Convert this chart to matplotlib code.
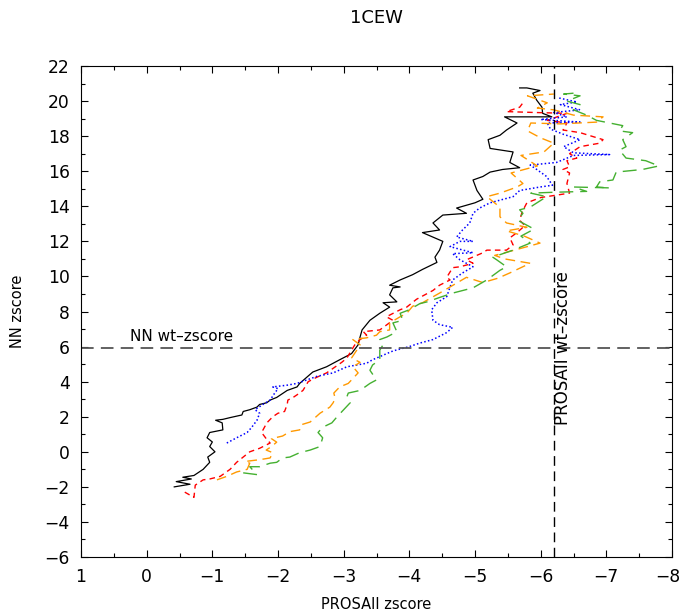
import matplotlib
matplotlib.use("Agg")
import matplotlib.pyplot as plt
import matplotlib.transforms as mtransforms
from matplotlib.ticker import MultipleLocator

plt.rcParams["font.family"] = ["DejaVu Sans"]

# PROSAII zscore (x) vs NN zscore (y), one list pair per run
black_x = [-0.42, -0.66, -0.45, -0.68, -0.55, -0.72, -0.86, -0.96, -0.93, -1.04, -0.96, -1.00, -0.92, -0.96,
           -1.16, -1.15, -1.05, -1.16, -1.27, -1.45, -1.47, -1.57, -1.68, -1.72, -1.83, -1.88, -1.98, -2.14,
           -2.29, -2.33, -2.53, -2.74, -2.94, -3.12, -3.22, -3.25, -3.28, -3.40, -3.55, -3.70, -3.60, -3.81,
           -3.70, -3.75, -3.86, -3.70, -3.86, -4.05, -4.20, -4.42, -4.39, -4.46, -4.51, -4.20, -4.46, -4.36,
           -4.51, -4.87, -4.72, -5.00, -5.12, -5.03, -4.97, -5.12, -5.23, -5.42, -5.68, -5.53, -5.58, -5.23,
           -5.20, -5.38, -5.48, -5.64, -5.45, -6.17, -6.03, -6.02, -5.94, -5.88, -5.99, -5.79, -5.68]
black_y = [-2.00, -1.85, -1.70, -1.55, -1.45, -1.35, -1.00, -0.60, -0.30, 0.00, 0.30, 0.56, 0.80, 1.10,
           1.25, 1.65, 1.80, 1.85, 1.95, 2.10, 2.30, 2.40, 2.55, 2.70, 2.80, 2.95, 3.10, 3.50,
           3.70, 3.90, 4.55, 4.85, 5.25, 5.60, 6.10, 6.55, 6.95, 7.50, 7.90, 8.25, 8.50, 8.55,
           8.95, 9.35, 9.40, 9.50, 9.80, 10.10, 10.40, 10.80, 11.10, 11.50, 12.00, 12.50, 12.65, 13.05,
           13.50, 13.60, 13.90, 14.20, 14.40, 14.90, 15.50, 15.70, 15.95, 16.10, 16.20, 16.50, 17.10, 17.30,
           17.80, 18.05, 18.35, 18.75, 19.10, 19.10, 19.30, 19.65, 20.05, 20.45, 20.60, 20.75, 20.75]

red_x = [-0.58, -0.72, -0.74, -0.86, -0.96, -1.12, -1.27, -1.37, -1.47, -1.57, -1.72, -1.88, -1.83, -1.75,
         -1.83, -1.92, -2.00, -2.10, -2.14, -2.15, -2.23, -2.29, -2.38, -2.46, -2.59, -2.74, -2.97, -3.05,
         -3.12, -3.17, -3.25, -3.35, -3.30, -3.55, -3.75, -3.65, -3.86, -3.96, -4.11, -4.36, -4.46, -4.62,
         -4.57, -4.66, -4.77, -4.97, -4.87, -5.12, -5.18, -5.48, -5.58, -5.53, -5.64, -5.76, -5.68, -5.72,
         -5.79, -6.00, -6.44, -6.40, -6.44, -6.34, -6.44, -6.40, -6.55, -6.44, -6.60, -6.90, -6.95, -6.60,
         -6.34, -6.40, -6.10, -6.40, -5.90, -5.48, -5.68, -5.73]
red_y = [-2.30, -2.60, -1.90, -1.60, -1.55, -1.40, -1.00, -0.60, -0.30, 0.00, 0.20, 0.50, 0.70, 1.10,
         1.65, 2.00, 2.20, 2.30, 2.70, 2.95, 3.10, 3.25, 3.50, 4.00, 4.25, 4.50, 5.10, 5.35,
         5.80, 6.10, 6.40, 6.65, 6.85, 6.95, 7.50, 7.70, 8.10, 8.25, 8.70, 9.20, 9.50, 9.80,
         9.95, 10.50, 10.55, 10.75, 10.95, 11.35, 11.50, 11.50, 11.80, 12.20, 12.50, 12.90, 13.20, 13.70,
         14.20, 14.50, 14.75, 15.30, 15.90, 16.10, 16.25, 16.60, 16.75, 17.00, 17.40, 17.60, 17.80, 18.20,
         18.35, 18.75, 18.90, 19.30, 19.35, 19.40, 19.65, 19.90]

blue_x = [-1.22, -1.37, -1.53, -1.60, -1.68, -1.72, -1.65, -1.77, -1.88, -1.95, -2.00, -1.92, -2.14, -2.29,
          -2.59, -2.84, -3.05, -3.35, -3.44, -3.75, -4.00, -4.16, -4.36, -4.57, -4.66, -4.46, -4.36, -4.34,
          -4.42, -4.57, -4.62, -4.66, -4.81, -4.97, -4.77, -4.66, -4.97, -4.62, -4.77, -4.97, -4.72, -4.81,
          -4.92, -4.97, -5.07, -5.23, -5.38, -5.58, -5.68, -5.99, -6.18, -6.09, -5.94, -5.84, -6.24, -6.50,
          -7.05, -6.50, -6.35, -6.60, -6.35, -6.15, -6.10, -6.60, -6.00, -6.40, -6.20, -6.60, -6.30, -6.55,
          -6.25]
blue_y = [0.50, 0.80, 1.10, 1.40, 1.80, 2.20, 2.40, 2.70, 2.95, 3.35, 3.60, 3.70, 3.80, 3.90,
          4.30, 4.50, 4.85, 5.05, 5.25, 5.75, 6.00, 6.20, 6.40, 6.80, 7.10, 7.25, 7.50, 8.10,
          8.50, 8.85, 9.40, 9.80, 10.20, 10.55, 10.95, 11.30, 11.35, 11.70, 12.00, 12.00, 12.25, 12.65,
          13.05, 13.60, 13.90, 14.20, 14.35, 14.55, 14.90, 15.10, 15.20, 15.70, 16.10, 16.35, 16.50, 16.90,
          16.95, 17.05, 17.40, 17.80, 18.10, 18.40, 18.75, 18.80, 18.95, 19.10, 19.35, 19.50, 19.80, 19.95,
          20.20]

orange_x = [-1.07, -1.22, -1.37, -1.53, -1.57, -1.50, -1.72, -1.88, -1.92, -1.82, -1.90, -1.98, -1.90, -2.07,
            -2.18, -2.33, -2.36, -2.49, -2.64, -2.79, -2.84, -2.87, -2.85, -2.94, -3.07, -3.22, -3.14, -3.25,
            -3.12, -3.20, -3.25, -3.14, -3.35, -3.50, -3.55, -3.70, -3.70, -3.86, -3.96, -4.05, -4.20, -4.46,
            -4.62, -4.87, -5.12, -5.35, -5.53, -5.84, -5.45, -5.30, -5.60, -5.99, -5.75, -5.48, -5.79, -5.48,
            -5.38, -5.38, -5.18, -5.38, -5.64, -5.73, -5.55, -5.95, -5.70, -6.05, -6.20, -6.00, -5.80, -5.85,
            -6.30, -6.85, -6.95, -6.50, -6.20, -5.95, -6.10, -5.80, -6.20]
orange_y = [-1.60, -1.40, -1.15, -1.00, -0.65, -0.55, -0.45, -0.35, -0.05, 0.10, 0.30, 0.55, 0.75, 0.90,
            1.15, 1.25, 1.55, 1.70, 2.20, 2.55, 2.80, 3.05, 3.35, 3.70, 3.90, 4.50, 4.85, 5.10,
            5.35, 5.80, 6.10, 6.40, 6.50, 6.65, 6.85, 6.95, 7.35, 7.70, 7.90, 8.30, 8.50, 9.05,
            9.40, 9.95, 9.65, 9.90, 10.20, 10.75, 11.00, 11.20, 11.50, 11.90, 12.30, 12.60, 12.80, 13.05,
            13.40, 13.95, 14.55, 14.75, 15.10, 15.30, 15.90, 16.30, 16.90, 17.10, 17.60, 17.90, 18.30, 18.75,
            18.70, 18.80, 19.10, 19.20, 19.50, 19.60, 19.90, 20.30, 20.40]

green_x = [-1.47, -1.68, -1.57, -1.72, -1.88, -1.98, -2.07, -2.18, -2.33, -2.49, -2.64, -2.68, -2.61, -2.68,
           -2.82, -2.90, -3.00, -3.10, -3.05, -3.07, -3.25, -3.40, -3.50, -3.40, -3.44, -3.55, -3.55, -3.60,
           -3.55, -3.66, -3.81, -3.75, -3.90, -3.86, -4.00, -4.16, -4.27, -4.46, -4.66, -4.97, -5.18, -5.38,
           -5.48, -5.33, -5.27, -5.58, -5.84, -5.70, -5.90, -5.65, -5.73, -5.68, -5.84, -6.09, -5.85, -6.20,
           -6.70, -6.50, -7.05, -6.85, -6.90, -7.10, -7.15, -7.55, -7.80, -7.60, -7.30, -7.20, -7.30, -7.25,
           -7.40, -7.20, -7.25, -7.05, -6.85, -6.70, -6.50, -6.60, -6.40, -6.60, -6.35, -6.50]
green_y = [-1.20, -1.30, -0.85, -0.85, -0.65, -0.60, -0.35, -0.30, -0.05, 0.10, 0.30, 0.80, 1.10, 1.40,
           1.65, 2.00, 2.40, 2.80, 3.15, 3.35, 3.50, 3.90, 4.10, 4.65, 4.95, 5.25, 5.80, 6.10,
           6.40, 6.55, 6.85, 7.35, 7.50, 7.90, 8.10, 8.45, 8.55, 8.80, 9.05, 9.35, 9.80, 10.35,
           10.55, 10.95, 11.10, 11.50, 11.90, 12.30, 12.70, 13.20, 13.60, 13.80, 13.95, 14.55, 14.75, 14.80,
           14.85, 15.10, 15.05, 15.10, 15.40, 15.50, 15.95, 16.10, 16.30, 16.60, 16.75, 17.20, 17.40, 17.80,
           18.20, 18.30, 18.60, 18.75, 18.90, 19.20, 19.50, 19.80, 20.00, 20.30, 20.40, 20.45]

nn_wt = 5.92
prosa_wt = -6.2

fig = plt.figure(figsize=(6.83, 6.14), dpi=100)
ax = fig.add_axes([0.1186, 0.0928, 0.8653, 0.7997])

ax.plot(black_x, black_y, color="black", lw=0.9, ls="-")
ax.plot(red_x, red_y, color="#ff0000", lw=1.0, ls=(0, (4, 3)))
ax.plot(blue_x, blue_y, color="#0000ff", lw=1.1, ls=(0, (1, 1.5)))
ax.plot(orange_x, orange_y, color="#ff9900", lw=1.0, ls=(0, (7, 4)))
ax.plot(green_x, green_y, color="#44b030", lw=1.0, ls=(0, (10, 5)))

ax.axhline(nn_wt, color="#555555", lw=1.3, ls=(0, (7, 4)))
ax.axvline(prosa_wt, color="black", lw=1.0, ls=(0, (7, 4)))
ax.text(0.25, nn_wt + 0.2, "NN wt\u2013zscore", fontsize=11, ha="left", va="bottom")
ax.text(-6.34, 1.55, "PROSAII wt\u2013zscore", fontsize=12, rotation=90, ha="center", va="bottom")

ax.set_xlim(1, -8)
ax.set_ylim(-6, 22)
ax.xaxis.set_major_locator(MultipleLocator(1))
ax.xaxis.set_minor_locator(MultipleLocator(0.5))
ax.yaxis.set_major_locator(MultipleLocator(2))
ax.yaxis.set_minor_locator(MultipleLocator(1))
ax.tick_params(which="both", direction="in", top=True, right=True, labelsize=12.3)
ax.tick_params(which="major", length=5, width=0.8)
ax.tick_params(which="minor", length=3, width=0.8)
ax.tick_params(axis="y", pad=8)
ax.tick_params(axis="x", pad=8)

ax.set_xlabel("PROSAII zscore", fontsize=10.5)
ax.set_ylabel("NN zscore", fontsize=10.5)
ax.xaxis.set_label_coords(0.5, -0.081)
ax.yaxis.set_label_coords(-0.095, 0.5)
fig.text(376.5 / 683, 1 - 18 / 614, "1CEW", fontsize=13, ha="center", va="center")

# nudge the "-8" label so it stays inside the canvas
fig.canvas.draw()
for lab in ax.get_xticklabels():
    if lab.get_text() in ("\u22128", "-8"):
        lab.set_transform(lab.get_transform() + mtransforms.ScaledTranslation(-3 / 72, 0, fig.dpi_scale_trans))

plt.savefig("out.png", dpi=100)
